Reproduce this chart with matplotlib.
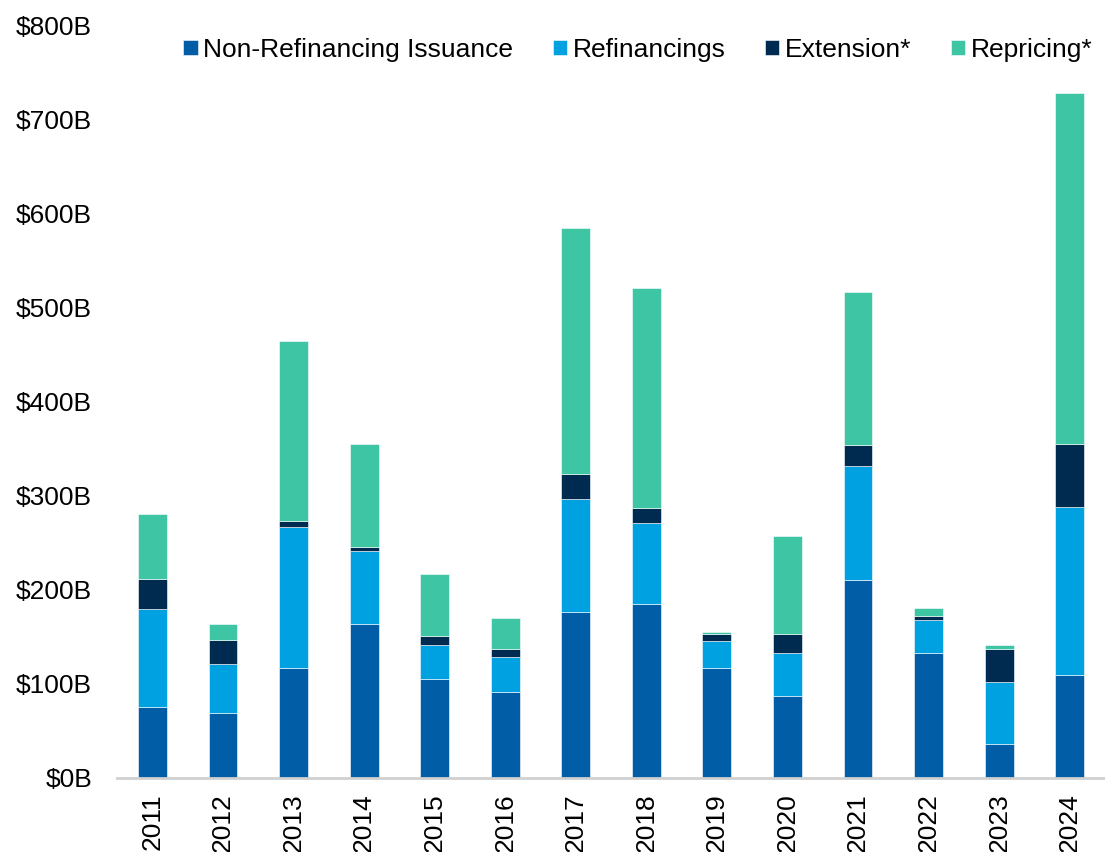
import numpy as np
import matplotlib
matplotlib.use("Agg")
import matplotlib.pyplot as plt

plt.rcParams['font.family'] = ['Liberation Sans', 'DejaVu Sans']

years = ['2011', '2012', '2013', '2014', '2015', '2016', '2017',
         '2018', '2019', '2020', '2021', '2022', '2023', '2024']
# values in $B
non_refi = [75, 69, 117, 164, 105, 91, 176, 185, 117, 87, 210, 133, 36, 109]
refis = [104, 52, 150, 77, 36, 38, 120, 86, 29, 46, 122, 35, 66, 179]
extension = [32, 26, 6, 4, 10, 8, 27, 16, 7, 20, 22, 4, 35, 67]
repricing = [70, 17, 191, 110, 66, 33, 261, 234, 2, 104, 162, 9, 4, 373]

series = [
    ('Non-Refinancing Issuance', non_refi, '#005DA6'),
    ('Refinancings', refis, '#00A1E0'),
    ('Extension*', extension, '#002B51'),
    ('Repricing*', repricing, '#3EC5A4'),
]

fig = plt.figure(figsize=(11.05, 8.52), dpi=100)
ax = fig.add_axes([0.106, 0.0869, 0.894, 0.8837])

x = np.arange(len(years))
bottom = np.zeros(len(years))
for name, vals, col in series:
    ax.bar(x, vals, width=0.41, bottom=bottom, color=col, label=name,
           edgecolor='white', linewidth=0.4)
    bottom += np.array(vals)

fs = 19
ax.set_xlim(-0.5, 13.5)
ax.set_ylim(0, 800)
ax.set_yticks(np.arange(0, 801, 100))
ax.set_yticklabels([f'${v}B' for v in range(0, 801, 100)], fontsize=fs)
ax.set_xticks(x)
ax.set_xticklabels(years, rotation=90, fontsize=fs)
ax.tick_params(axis='x', length=0, pad=11)
ax.tick_params(axis='y', length=0, pad=18)

for s in ['top', 'right', 'left']:
    ax.spines[s].set_visible(False)
ax.spines['bottom'].set_color('#d0d0d0')
ax.spines['bottom'].set_linewidth(2)

ax.legend(loc='upper left', bbox_to_anchor=(0.051, 1.004), ncol=4, frameon=False,
          fontsize=fs, handlelength=0.55, handleheight=0.55,
          handletextpad=0.2, columnspacing=1.5, borderaxespad=0.2)

fig.savefig('out.png', dpi=100)
